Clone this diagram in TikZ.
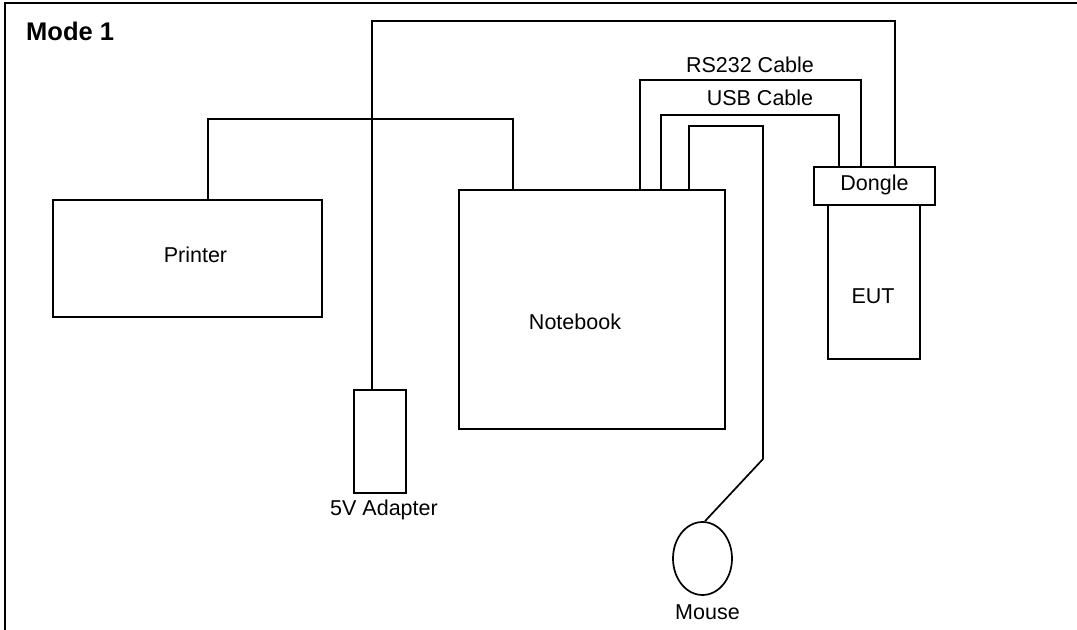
\documentclass[tikz,border=0pt]{standalone}
\usepackage{fontspec}
\setmainfont{Liberation Sans}
\usetikzlibrary{shapes.geometric}
\begin{document}
\begin{tikzpicture}[x=1bp,y=-1bp,
  wire/.style={line width=1.7bp,line join=miter},
  box/.style={draw,line width=1.7bp,rectangle,inner sep=0pt},
  lbl/.style={font=\fontsize{21.5bp}{25bp}\selectfont,inner sep=0pt}]
\useasboundingbox (0,0) rectangle (1077,630);
% frame
\draw[line width=2.4bp] (5,640) -- (5,3) -- (1085,3);
\node[anchor=west,inner sep=0pt,font=\fontsize{25.5bp}{29bp}\selectfont\bfseries] (title) at (26,31) {Mode 1};
% devices
\node[box,minimum width=269bp,minimum height=117bp,
  label={[lbl,xshift=8bp,yshift=4bp]center:Printer}] (printer) at (187.5,258.5) {};
\node[box,minimum width=266bp,minimum height=239bp,
  label={[lbl,xshift=-17bp,yshift=-12bp]center:Notebook}] (nb) at (592,309.5) {};
\node[box,minimum width=52bp,minimum height=103bp,
  label={[lbl,xshift=4bp,yshift=-6bp]below:5V Adapter}] (adapter) at (380,441.5) {};
\node[box,minimum width=121bp,minimum height=38bp,
  label={[lbl,yshift=1bp]center:Dongle}] (dongle) at (874.5,186) {};
\node[box,minimum width=92bp,minimum height=154bp,
  label={[lbl,xshift=-1bp,yshift=-14bp]center:EUT}] (eut) at (874,282) {};
\node[draw,line width=1.7bp,ellipse,inner sep=0pt,minimum width=59bp,minimum height=73bp,
  label={[lbl,xshift=5bp,yshift=-9bp]below:Mouse}] (mouse) at (702.5,558.5) {};
% cables
\draw[wire] (printer.north -| 208,0) |- (513,119) -- (nb.north -| 513,0);
\draw[wire] (adapter.north -| 372,0) |- (895,21) -- (dongle.north -| 895,0);
\draw[wire] (nb.north -| 640,0) |- (861,80) -- (dongle.north -| 861,0);
\draw[wire] (nb.north -| 661,0) |- (839,115) -- (dongle.north -| 839,0);
\draw[wire] (nb.north -| 689,0) |- (763,126) -- (763,459) -- (mouse.north -| 705,0);
\node[lbl] (rs232) at (750,65) {RS232 Cable};
\node[lbl] (usb) at (760,98) {USB Cable};
\end{tikzpicture}
\end{document}
